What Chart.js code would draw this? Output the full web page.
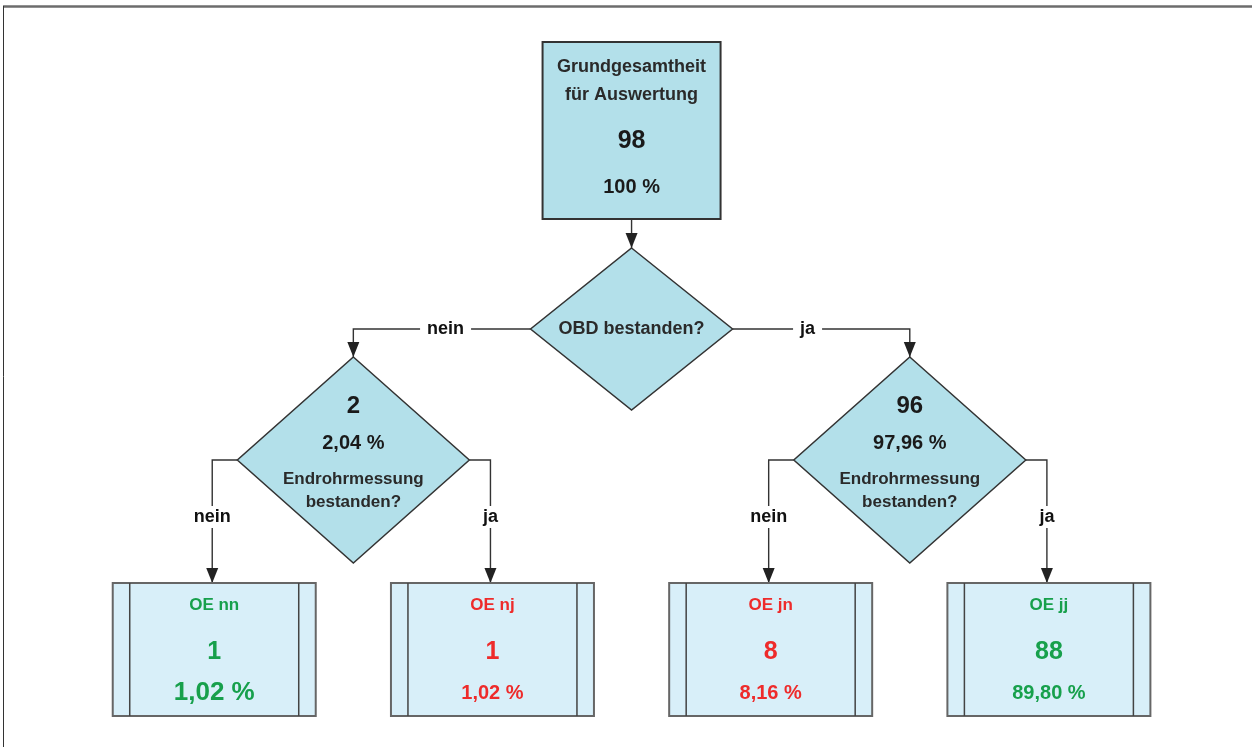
<!DOCTYPE html>
<html lang="de">
<head>
<meta charset="utf-8">
<title>OBD / Endrohrmessung</title>
<script src="https://cdn.jsdelivr.net/npm/chart.js@4.4.0/dist/chart.umd.min.js"></script>
<style>
  html, body { margin: 0; padding: 0; background: #fff; }
  #wrap { width: 1252px; height: 747px; position: relative; }
</style>
</head>
<body>
<div id="wrap"><canvas id="flowChart"></canvas></div>
<script>
// --- data ---
const totalLabel = ["Grundgesamtheit", "für Auswertung"];
const totalCount = 98;
const totalPercent = "100 %";
const firstQuestion = "OBD bestanden?";
const secondQuestion = ["Endrohrmessung", "bestanden?"];
const answers = ["nein", "ja"];
const branchCounts = [2, 96];
const branchPercents = ["2,04 %", "97,96 %"];
const outcomeNames = ["OE nn", "OE nj", "OE jn", "OE jj"];
const outcomeCounts = [1, 1, 8, 88];
const outcomePercents = ["1,02 %", "1,02 %", "8,16 %", "89,80 %"];

// --- layout / style ---
const levelY = [130.5, 329, 460, 649.5];
const FONT = "'Liberation Sans', Arial, sans-serif";
const fillDark = "#b3e0ea";
const fillLight = "#d8eff9";
const green = "#17a04c";
const red = "#ee2b2b";
const textDark = "#2a2a2a";
const pctSize = [26, 20, 20, 20];

// tree positions: leaves on slots 0..3, parents centred over children
const leafSlots = outcomeNames.map((n, i) => i);
const branchSlots = [0, 1].map((j) => (leafSlots[2 * j] + leafSlots[2 * j + 1]) / 2);
const rootSlot = (branchSlots[0] + branchSlots[1]) / 2;

const nodePoints = [
  { x: rootSlot, y: levelY[0] },
  { x: rootSlot, y: levelY[1] },
  ...branchSlots.map((s) => ({ x: s, y: levelY[2] })),
  ...leafSlots.map((s) => ({ x: s, y: levelY[3] })),
];

function txt(ctx, s, x, y, size, color, bg) {
  ctx.font = "bold " + size + "px " + FONT;
  ctx.textAlign = "center";
  ctx.textBaseline = "middle";
  if (bg) {
    const w = ctx.measureText(s).width;
    ctx.fillStyle = bg;
    ctx.fillRect(x - w / 2 - 7, y - size / 2 - 2, w + 14, size + 4);
  }
  ctx.fillStyle = color;
  ctx.fillText(s, x, y);
}

function arrowDown(ctx, x, y) {
  ctx.fillStyle = "#222";
  ctx.beginPath();
  ctx.moveTo(x, y);
  ctx.lineTo(x - 6, y - 15);
  ctx.lineTo(x + 6, y - 15);
  ctx.closePath();
  ctx.fill();
}

function line(ctx, pts) {
  ctx.strokeStyle = "#333";
  ctx.lineWidth = 1.4;
  ctx.beginPath();
  ctx.moveTo(pts[0][0], pts[0][1]);
  pts.slice(1).forEach((p) => ctx.lineTo(p[0], p[1]));
  ctx.stroke();
}

function diamond(ctx, x, y, hw, hh) {
  ctx.beginPath();
  ctx.moveTo(x, y - hh);
  ctx.lineTo(x + hw, y);
  ctx.lineTo(x, y + hh);
  ctx.lineTo(x - hw, y);
  ctx.closePath();
  ctx.fillStyle = fillDark;
  ctx.fill();
  ctx.strokeStyle = "#333";
  ctx.lineWidth = 1.5;
  ctx.stroke();
}

const flowPlugin = {
  id: "flow",
  afterDatasetsDraw(chart) {
    const ctx = chart.ctx;
    const p = chart.getDatasetMeta(0).data;
    const root = p[0], q1 = p[1], br = [p[2], p[3]], lf = p.slice(4);
    ctx.save();

    // frame
    ctx.strokeStyle = "#6c6c6c";
    ctx.lineWidth = 2.5;
    ctx.beginPath(); ctx.moveTo(3, 6.5); ctx.lineTo(1252, 6.5); ctx.stroke();
    ctx.strokeStyle = "#333";
    ctx.lineWidth = 1;
    ctx.beginPath(); ctx.moveTo(3.5, 6); ctx.lineTo(3.5, 747); ctx.stroke();

    // sizes
    const topW = 178, topH = 177;
    const q1W = 101, q1H = 81;
    const q2W = 116, q2H = 103;
    const leafW = 203, leafH = 133, band = 17;

    // connectors
    line(ctx, [[root.x, root.y + topH / 2], [root.x, q1.y - q1H]]);
    arrowDown(ctx, root.x, q1.y - q1H);
    [-1, 1].forEach((d, j) => {
      const b = br[j];
      line(ctx, [[q1.x + d * q1W, q1.y], [b.x, q1.y], [b.x, b.y - q2H]]);
      arrowDown(ctx, b.x, b.y - q2H);
      txt(ctx, answers[j], q1.x + d * (q1W + (j === 0 ? 85 : 75)), q1.y, 18, "#111", "#fff");
      [-1, 1].forEach((e, k) => {
        const l = lf[2 * j + k];
        const lx = l.x - 2;
        line(ctx, [[b.x + e * q2W, b.y], [lx, b.y], [lx, l.y - leafH / 2]]);
        arrowDown(ctx, lx, l.y - leafH / 2);
        txt(ctx, answers[k], lx, 517, 18, "#111", "#fff");
      });
    });

    // root box
    ctx.fillStyle = fillDark;
    ctx.fillRect(root.x - topW / 2, root.y - topH / 2, topW, topH);
    ctx.strokeStyle = "#333";
    ctx.lineWidth = 2;
    ctx.strokeRect(root.x - topW / 2, root.y - topH / 2, topW, topH);
    txt(ctx, totalLabel[0], root.x, root.y - 63.5, 18, textDark);
    txt(ctx, totalLabel[1], root.x, root.y - 35.5, 18, textDark);
    txt(ctx, String(totalCount), root.x, root.y + 10.5, 25, "#1a1a1a");
    txt(ctx, totalPercent, root.x, root.y + 56.5, 20, "#1a1a1a");

    // first question
    diamond(ctx, q1.x, q1.y, q1W, q1H);
    txt(ctx, firstQuestion, q1.x, q1.y, 18, textDark);

    // second questions
    br.forEach((b, j) => {
      diamond(ctx, b.x, b.y, q2W, q2H);
      txt(ctx, String(branchCounts[j]), b.x, b.y - 54, 24, "#1a1a1a");
      txt(ctx, branchPercents[j], b.x, b.y - 17, 20, "#1a1a1a");
      txt(ctx, secondQuestion[0], b.x, b.y + 19, 17, textDark);
      txt(ctx, secondQuestion[1], b.x, b.y + 42, 17, textDark);
    });

    // outcome boxes
    lf.forEach((l, i) => {
      const x0 = l.x - leafW / 2, y0 = l.y - leafH / 2;
      ctx.fillStyle = fillLight;
      ctx.fillRect(x0, y0, leafW, leafH);
      ctx.strokeStyle = "#666";
      ctx.lineWidth = 2;
      ctx.strokeRect(x0, y0, leafW, leafH);
      ctx.strokeStyle = "#444";
      ctx.lineWidth = 1.5;
      ctx.beginPath();
      ctx.moveTo(x0 + band, y0); ctx.lineTo(x0 + band, y0 + leafH);
      ctx.moveTo(x0 + leafW - band, y0); ctx.lineTo(x0 + leafW - band, y0 + leafH);
      ctx.stroke();
      const code = outcomeNames[i].slice(-2);
      const col = code[0] === code[1] ? green : red;
      txt(ctx, outcomeNames[i], l.x, l.y - 44.5, 17, col);
      txt(ctx, String(outcomeCounts[i]), l.x, l.y + 2.5, 25, col);
      txt(ctx, outcomePercents[i], l.x, l.y + 43.5, pctSize[i], col);
    });

    ctx.restore();
  },
};

new Chart(document.getElementById("flowChart"), {
  type: "scatter",
  data: {
    datasets: [{ data: nodePoints, pointRadius: 0, pointHoverRadius: 0 }],
  },
  options: {
    responsive: true,
    maintainAspectRatio: false,
    animation: false,
    layout: { padding: 0 },
    plugins: { legend: { display: false }, tooltip: { enabled: false } },
    events: [],
    scales: {
      x: { type: "linear", display: false, min: -0.77, max: 3.73 },
      y: { type: "linear", display: false, min: 0, max: 747, reverse: true },
    },
  },
  plugins: [flowPlugin],
});
</script>
</body>
</html>
